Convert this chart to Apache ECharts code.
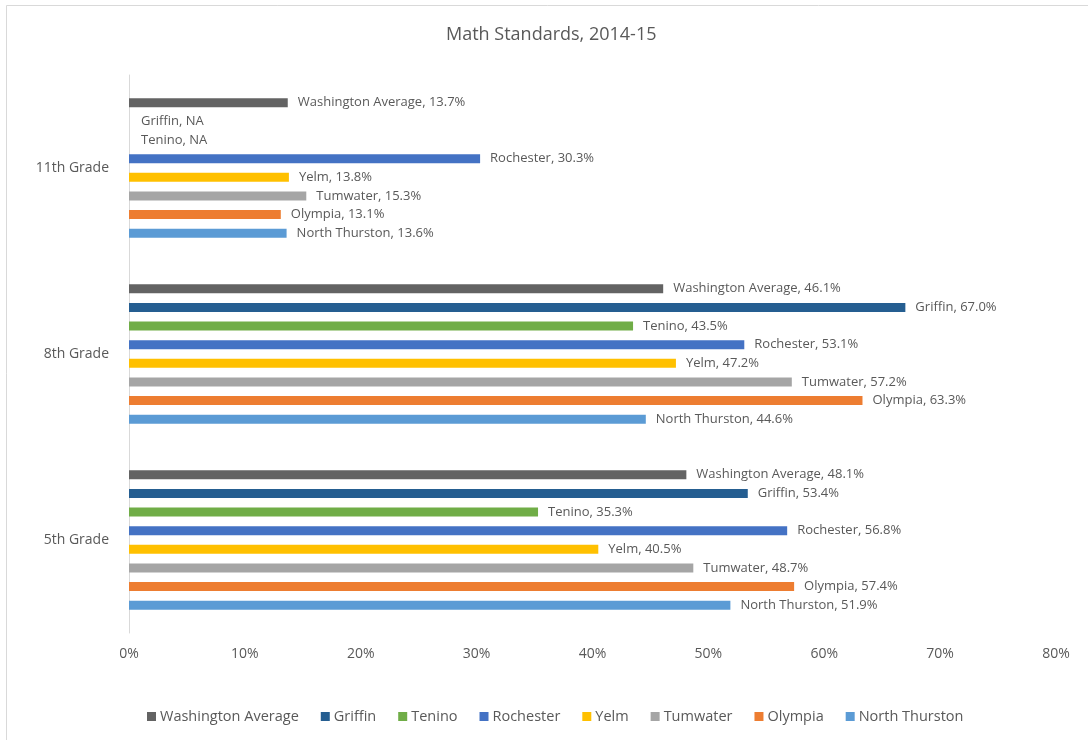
<!DOCTYPE html>
<html><head><meta charset="utf-8">
<script src="https://cdn.jsdelivr.net/npm/echarts@6/dist/echarts.min.js"></script>
<style>html,body{margin:0;padding:0;background:#fff}#c{width:1088px;height:740px}</style>
</head><body><div id="c"></div>
<script>
const grades = ['5th Grade', '8th Grade', '11th Grade'];
const seriesNames = ['Washington Average', 'Griffin', 'Tenino', 'Rochester', 'Yelm', 'Tumwater', 'Olympia', 'North Thurston'];
const colors = ['#636363', '#255e91', '#70ad47', '#4472c4', '#ffc000', '#a5a5a5', '#ed7d31', '#5b9bd5'];
// values in percent, order: 5th, 8th, 11th ; null = NA
const washingtonAverage = [48.1, 46.1, 13.7];
const griffin = [53.4, 67.0, null];
const tenino = [35.3, 43.5, null];
const rochester = [56.8, 53.1, 30.3];
const yelm = [40.5, 47.2, 13.8];
const tumwater = [48.7, 57.2, 15.3];
const olympia = [57.4, 63.3, 13.1];
const northThurston = [51.9, 44.6, 13.6];
const xTicks = [0, 10, 20, 30, 40, 50, 60, 70, 80];

const values = [washingtonAverage, griffin, tenino, rochester, yelm, tumwater, olympia, northThurston];
const font = 'Open Sans';
const txt = '#595959';

const series = seriesNames.map((name, i) => ({
  name: name,
  type: 'bar',
  barWidth: 9,
  barGap: '107%',
  itemStyle: { color: colors[i] },
  label: {
    show: true, position: 'right', distance: 10,
    color: txt, fontFamily: font, fontSize: 13,
    formatter: p => name + ', ' + p.value.toFixed(1) + '%'
  },
  data: values[i].map(v => v === null
    ? { value: 0, label: { formatter: name + ', NA', distance: 12 } }
    : v)
}));

const chart = echarts.init(document.getElementById('c'), null, { renderer: 'canvas' });
chart.setOption({
  animation: false,
  backgroundColor: '#fff',
  color: colors,
  title: {
    text: 'Math Standards, 2014-15', left: 441, top: 21,
    textStyle: { color: txt, fontFamily: font, fontSize: 18, fontWeight: 'normal' }
  },
  legend: {
    data: seriesNames, bottom: 11, left: 142, icon: 'rect',
    itemWidth: 9, itemHeight: 9, itemGap: 22,
    textStyle: { color: txt, fontFamily: font, fontSize: 14.5, padding: [0, 0, 0, -1] }
  },
  grid: { left: 129, right: 32, top: 75, bottom: 107, containLabel: false },
  xAxis: {
    type: 'value', min: xTicks[0], max: xTicks[xTicks.length - 1], interval: 10,
    axisLine: { show: false }, axisTick: { show: false }, splitLine: { show: false },
    axisLabel: { formatter: '{value}%', color: txt, fontFamily: font, fontSize: 14, margin: 14 }
  },
  yAxis: {
    type: 'category', data: grades,
    axisLine: { show: true, lineStyle: { color: '#d9d9d9' } },
    axisTick: { show: false },
    axisLabel: { color: txt, fontFamily: font, fontSize: 14, margin: 20 }
  },
  graphic: [{
    type: 'rect', shape: { x: 6.5, y: 5.5, width: 1100, height: 800 },
    style: { fill: null, stroke: '#d9d9d9', lineWidth: 1 }, silent: true
  }],
  series: series
});
</script></body></html>
